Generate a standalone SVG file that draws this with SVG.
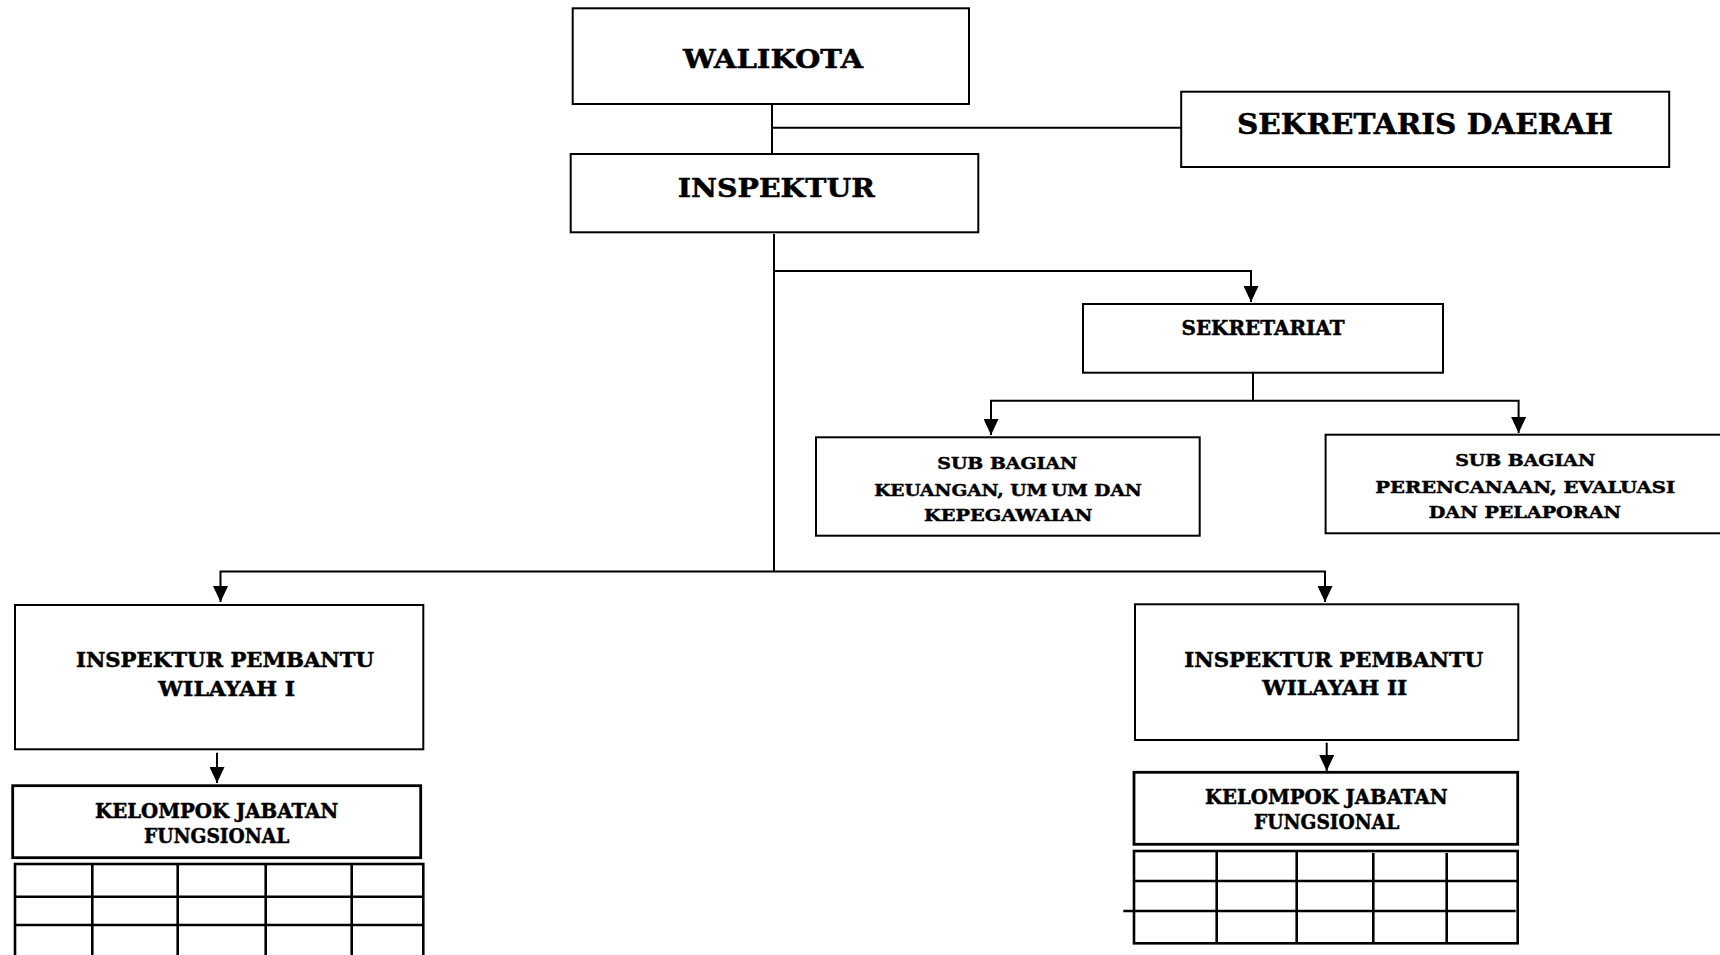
<svg xmlns="http://www.w3.org/2000/svg" width="1720" height="955" viewBox="0 0 1720 955">
<style>
.bx{fill:#fff;stroke:#000;stroke-width:2}
.bxt{fill:#fff;stroke:#000;stroke-width:2.8}
.ln{fill:none;stroke:#000;stroke-width:2}
.grid{fill:none;stroke:#000;stroke-width:2.6}
text{font-family:"DejaVu Serif","Liberation Serif",serif;font-weight:bold;fill:#000;stroke:#000;stroke-width:0.5;text-anchor:middle}
.h1{font-size:26px}
.h2{font-size:20px}
.h3{font-size:17.5px}
.h4{font-size:21px}
</style>
<defs>
<marker id="arr" markerUnits="userSpaceOnUse" markerWidth="16" markerHeight="15" refX="16" refY="7.5" orient="auto">
<path d="M0,0 L16,7.5 L0,15 z" fill="#000"/>
</marker>
</defs>
<rect width="1720" height="955" fill="#fff"/>
<g id="connectors">
<path class="ln" d="M772,104 V154"/>
<path class="ln" d="M773,127.7 H1181"/>
<path class="ln" d="M774,234 V572"/>
<path class="ln" d="M774,271 H1251 V302" marker-end="url(#arr)"/>
<path class="ln" d="M1253,373 V400.7"/>
<path class="ln" d="M1253,400.7 H991 V435" marker-end="url(#arr)"/>
<path class="ln" d="M1253,400.7 H1518.6 V433" marker-end="url(#arr)"/>
<path class="ln" d="M774,571.5 H220.5 V602" marker-end="url(#arr)"/>
<path class="ln" d="M774,571.5 H1325 V602" marker-end="url(#arr)"/>
<path class="ln" d="M217,752.7 V783" marker-end="url(#arr)"/>
<path class="ln" d="M1326.7,742.7 V771" marker-end="url(#arr)"/>
</g>
<g id="walikota">
<rect class="bx" x="572.7" y="8.3" width="396.3" height="95.7"/>
<text class="h1" x="773" y="68.3" textLength="180" lengthAdjust="spacingAndGlyphs">WALIKOTA</text>
</g>
<g id="sekretaris-daerah">
<rect class="bx" x="1181.2" y="91.7" width="488" height="75.3"/>
<text class="h1" style="font-size:28px" x="1425" y="134" textLength="376" lengthAdjust="spacingAndGlyphs">SEKRETARIS DAERAH</text>
</g>
<g id="inspektur">
<rect class="bx" x="570.7" y="154" width="407.6" height="78.3"/>
<text class="h1" x="776.3" y="197.3" textLength="197" lengthAdjust="spacingAndGlyphs">INSPEKTUR</text>
</g>
<g id="sekretariat">
<rect class="bx" x="1083" y="304" width="360" height="68.7"/>
<text class="h2" x="1263" y="335.3" textLength="163" lengthAdjust="spacingAndGlyphs">SEKRETARIAT</text>
</g>
<g id="sub-bagian-keuangan">
<rect class="bx" x="816" y="437.3" width="383.7" height="98.4"/>
<text class="h3" x="1007.3" y="469.3" textLength="140" lengthAdjust="spacingAndGlyphs">SUB BAGIAN</text>
<text class="h3" x="1008" y="496" textLength="267.5" lengthAdjust="spacingAndGlyphs">KEUANGAN, UM<tspan dx="4">UM DAN</tspan></text>
<text class="h3" x="1008.2" y="520.7" textLength="168.5" lengthAdjust="spacingAndGlyphs">KEPEGAWAIAN</text>
</g>
<g id="sub-bagian-perencanaan">
<rect class="bx" x="1325.6" y="434.7" width="400" height="98.6"/>
<text class="h3" x="1525.2" y="466" textLength="140" lengthAdjust="spacingAndGlyphs">SUB BAGIAN</text>
<text class="h3" x="1525.2" y="492.5" textLength="300" lengthAdjust="spacingAndGlyphs">PERENCANAAN, EVALUASI</text>
<text class="h3" x="1524.9" y="518" textLength="192.3" lengthAdjust="spacingAndGlyphs">DAN PELAPORAN</text>
</g>
<g id="inspektur-pembantu-1">
<rect class="bx" x="15" y="605" width="408.3" height="144.3"/>
<text class="h4" x="225" y="667.3" textLength="298" lengthAdjust="spacingAndGlyphs">INSPEKTUR PEMBANTU</text>
<text class="h4" x="226.7" y="696" textLength="136.7" lengthAdjust="spacingAndGlyphs">WILAYAH I</text>
</g>
<g id="kelompok-jabatan-1">
<rect class="bxt" x="12.7" y="785.7" width="408" height="72"/>
<text class="h2" x="216.7" y="817.7" textLength="243.3" lengthAdjust="spacingAndGlyphs">KELOMPOK JABATAN</text>
<text class="h2" x="216.7" y="842.7" textLength="145.3" lengthAdjust="spacingAndGlyphs">FUNGSIONAL</text>
</g>
<g id="table-1">
<rect class="grid" x="15" y="864" width="408.3" height="100"/>
<path class="grid" d="M15,896.7 H423.3 M15,925 H423.3 M92.3,864 V960 M177.7,864 V960 M265.7,864 V960 M351.7,864 V960"/>
</g>
<g id="inspektur-pembantu-2">
<rect class="bx" x="1135" y="604.3" width="383.3" height="135.7"/>
<text class="h4" x="1333.8" y="667.3" textLength="299" lengthAdjust="spacingAndGlyphs">INSPEKTUR PEMBANTU</text>
<text class="h4" x="1334.8" y="695" textLength="145" lengthAdjust="spacingAndGlyphs">WILAYAH II</text>
</g>
<g id="kelompok-jabatan-2">
<rect class="bxt" x="1134" y="772.3" width="383.7" height="72"/>
<text class="h2" x="1326.3" y="804.3" textLength="242.7" lengthAdjust="spacingAndGlyphs">KELOMPOK JABATAN</text>
<text class="h2" x="1326.7" y="828.7" textLength="145.3" lengthAdjust="spacingAndGlyphs">FUNGSIONAL</text>
</g>
<g id="table-2">
<rect class="grid" x="1134" y="851" width="383.7" height="92.3"/>
<path class="grid" d="M1134,881 H1517.7 M1123.3,911 H1515.7 M1216.7,851 V943.3 M1296.7,851 V943.3 M1373.3,853 V943.3 M1446.7,853 V943.3"/>
</g>
</svg>
